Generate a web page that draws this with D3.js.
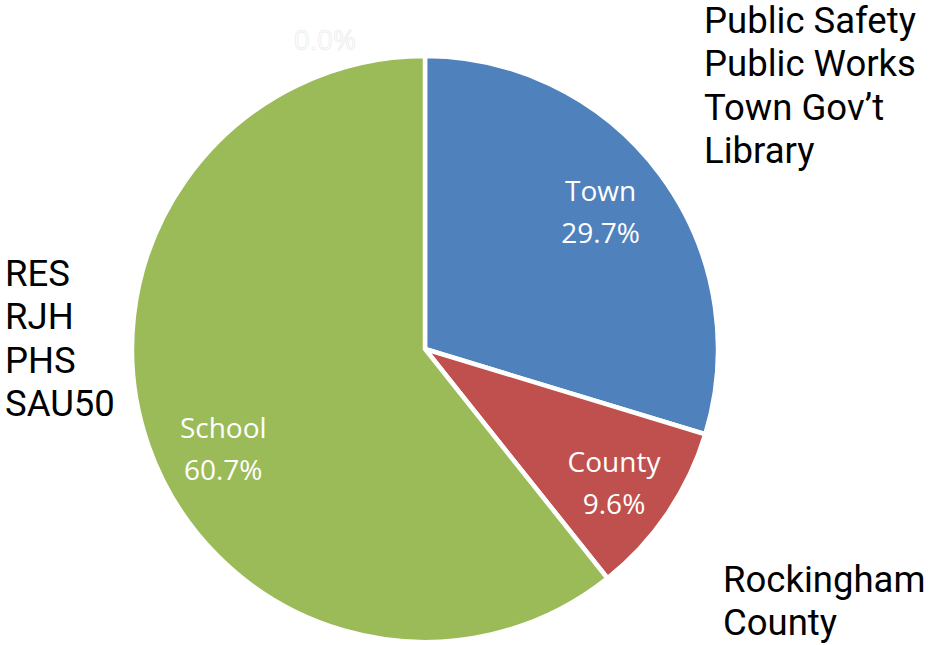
<!DOCTYPE html>
<html>
<head>
<meta charset="utf-8">
<script src="https://cdn.jsdelivr.net/npm/d3@7"></script>
<style>
  html, body { margin: 0; padding: 0; background: #fff; }
  svg { display: block; }
</style>
</head>
<body>
<svg id="chart" width="930" height="645"></svg>
<script>
// Budget share by category (percent)
const categories = ["Town", "County", "School", "Other"];
const shares = [29.7, 9.6, 60.7, 0.0];
const sliceColors = ["#4f81bd", "#c0504d", "#9bbb59", "#ffffff"];

// Side notes listing what each category covers
const townItems = ["Public Safety", "Public Works", "Town Gov\u2019t", "Library"];
const schoolItems = ["RES", "RJH", "PHS", "SAU50"];
const countyItems = ["Rockingham", "County"];

const svg = d3.select("#chart");
const cx = 425, cy = 349, R = 293;

const data = categories.map((c, i) => ({ name: c, value: shares[i], color: sliceColors[i] }));

const pie = d3.pie().sort(null).value(d => d.value).startAngle(0).endAngle(2 * Math.PI);
const arc = d3.arc().innerRadius(0).outerRadius(R);
const labelArc = d3.arc().innerRadius(R * 0.78).outerRadius(R * 0.78);

const g = svg.append("g").attr("transform", `translate(${cx},${cy})`);
const arcs = pie(data);

g.selectAll("path.slice")
  .data(arcs.filter(d => d.data.value > 0))
  .join("path")
  .attr("class", "slice")
  .attr("d", arc)
  .attr("fill", d => d.data.color)
  .attr("stroke", "#ffffff")
  .attr("stroke-width", 4.5)
  .attr("stroke-linejoin", "miter");

// Label nudges (px) where the label is pushed off the centroid
const nudge = { Town: [-8, -2], County: [0, 5], School: [14, 24], Other: [-100, -80] };

const labels = g.selectAll("g.lbl")
  .data(arcs)
  .join("g")
  .attr("class", "lbl")
  .attr("transform", d => {
    const [x, y] = labelArc.centroid(d);
    const [nx, ny] = nudge[d.data.name];
    return `translate(${x + nx},${y + ny})`;
  });

labels.each(function (d) {
  const sel = d3.select(this);
  const t = sel.append("text")
    .attr("text-anchor", "middle")
    .attr("font-family", "'Open Sans', Lato, sans-serif")
    .attr("font-size", 28)
    .attr("fill", "#ffffff");
  const pct = d.data.value.toFixed(1) + "%";
  if (d.data.value > 0) {
    t.append("tspan").attr("x", 0).attr("y", -10).text(d.data.name);
    t.append("tspan").attr("x", 0).attr("y", 32).text(pct);
  } else {
    t.attr("stroke", "#e8e8e8").attr("stroke-width", 0.6)
      .append("tspan").attr("x", 0).attr("y", 10).text(pct);
  }
});

// Side text blocks
function block(lines, x, y0) {
  const t = svg.append("text")
    .attr("font-family", "Roboto, sans-serif")
    .attr("font-size", 36.5)
    .attr("fill", "#000");
  lines.forEach((s, i) => {
    t.append("tspan").attr("x", x).attr("y", y0 + i * 43.3).text(s);
  });
}
block(townItems, 704, 33);
block(schoolItems, 5, 286);
block(countyItems, 723, 592);
</script>
</body>
</html>
